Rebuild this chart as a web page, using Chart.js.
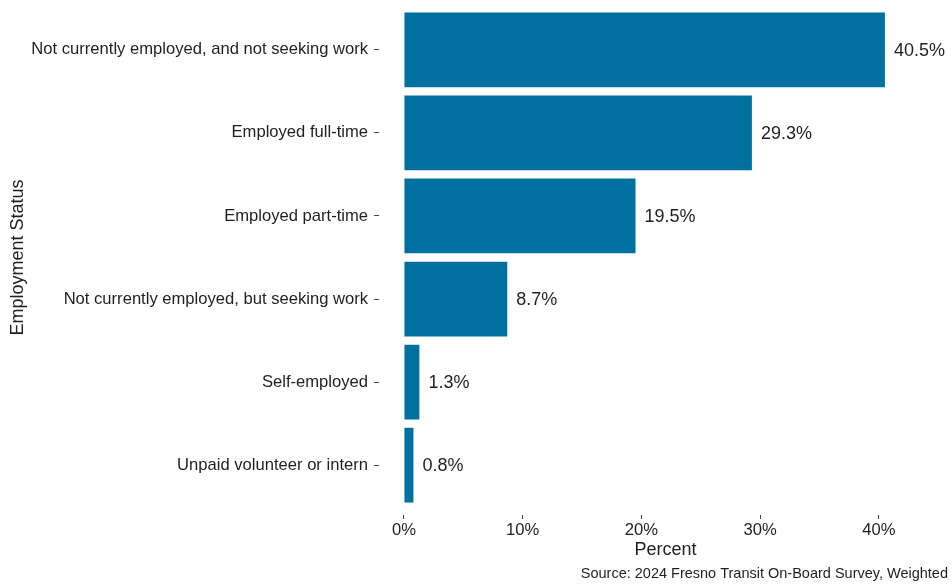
<!DOCTYPE html>
<html>
<head>
<meta charset="utf-8">
<script src="https://cdn.jsdelivr.net/npm/chart.js@4.4.1/dist/chart.umd.min.js"></script>
<style>
  body { margin: 0; background: #fff; }
</style>
</head>
<body>
<canvas id="myChart" width="952" height="585"></canvas>
<script>
const categories = [
  'Not currently employed, and not seeking work',
  'Employed full-time',
  'Employed part-time',
  'Not currently employed, but seeking work',
  'Self-employed',
  'Unpaid volunteer or intern'
];
const percents = [40.5, 29.3, 19.5, 8.7, 1.3, 0.8];
const xTicks = [0, 10, 20, 30, 40];
const caption = 'Source: 2024 Fresno Transit On-Board Survey, Weighted';

const FONT = "'Liberation Sans', Arial, sans-serif";
const TEXT = '#1f1f1f';

/* etiquetas de valor al final de cada barra */
const valueLabels = {
  id: 'valueLabels',
  afterDatasetsDraw(chart) {
    const ctx = chart.ctx;
    const meta = chart.getDatasetMeta(0);
    ctx.save();
    ctx.font = '18px ' + FONT;
    ctx.fillStyle = TEXT;
    ctx.textAlign = 'left';
    ctx.textBaseline = 'middle';
    meta.data.forEach((bar, i) => {
      ctx.fillText(percents[i].toFixed(1) + '%', bar.x + 9, bar.y + 1);
    });
    ctx.restore();
  }
};

/* fuente al pie */
const captionPlugin = {
  id: 'captionPlugin',
  afterDraw(chart) {
    const ctx = chart.ctx;
    ctx.save();
    ctx.font = '14.5px ' + FONT;
    ctx.fillStyle = TEXT;
    ctx.textAlign = 'right';
    ctx.textBaseline = 'middle';
    ctx.fillText(caption, 948, 574);
    ctx.restore();
  }
};

const ctx = document.getElementById('myChart');
const dataset = {
  datasets: [{
    data: percents.map((v, i) => ({ x: v, y: i })),
    backgroundColor: '#0070A0',
    borderWidth: 0,
    categoryPercentage: 1,
    barPercentage: 0.9
  }]
};
const config = {
  type: 'bar',
  data: dataset,
  options: {
    indexAxis: 'y',
    responsive: false,
    animation: false,
    layout: { padding: { top: 0, right: 0, bottom: 19, left: 0 } },
    plugins: {
      legend: { display: false },
      tooltip: { enabled: false }
    },
    scales: {
      x: {
        type: 'linear',
        min: -2.1,
        max: 46.15,
        afterBuildTicks: s => { s.ticks = xTicks.map(v => ({ value: v })); },
        afterFit: s => { s.height = 51; },
        border: { display: false },
        grid: { drawOnChartArea: false, drawTicks: true, tickLength: 4, color: '#444' },
        ticks: {
          padding: 1,
          color: TEXT,
          font: { family: FONT, size: 16.6 },
          callback: v => v + '%'
        },
        title: {
          display: true,
          text: 'Percent',
          color: TEXT,
          font: { family: FONT, size: 18 },
          padding: { top: 0, bottom: 5 }
        }
      },
      y: {
        type: 'linear',
        reverse: true,
        offset: false,
        min: -0.6,
        max: 5.6,
        afterBuildTicks: s => { s.ticks = categories.map((c, i) => ({ value: i })); },
        afterFit: s => { s.width = 379; s.paddingTop = 0; s.paddingBottom = 0; },
        border: { display: false },
        grid: { offset: false, drawOnChartArea: false, drawTicks: true, tickLength: 5, color: '#444' },
        ticks: {
          padding: 6,
          color: TEXT,
          font: { family: FONT, size: 16.6 },
          callback: v => categories[v]
        },
        title: {
          display: true,
          text: 'Employment Status',
          color: TEXT,
          font: { family: FONT, size: 18 },
          padding: { top: 7, bottom: 0 }
        }
      }
    }
  },
  plugins: [valueLabels, captionPlugin]
};
const chart = new Chart(ctx, config);
</script>
</body>
</html>
